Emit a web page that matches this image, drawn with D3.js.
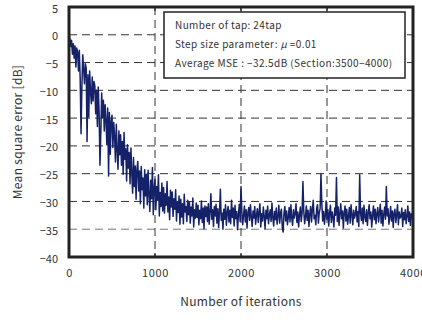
<!DOCTYPE html>
<html><head><meta charset="utf-8">
<script src="https://cdn.jsdelivr.net/npm/d3@7"></script>
<style>
body{margin:0;background:#fff;}
svg{display:block;}
text{font-family:"Noto Sans CJK JP","Noto Sans",sans-serif;fill:#333;}
</style></head>
<body>
<svg id="c" width="422" height="320"></svg>
<script>
// MSE values in dB, sampled every 10 iterations (0..4000)
const step = 10;
const mse = [
0,-0.8,-2.1,-1.0,-3.5,-1.6,-4.2,-2.0,-5.8,-2.4,
-3.1,-6.5,-2.8,-7.9,-17.8,-9.2,-3.6,-6.1,-8.8,-5.2,
-6.0,-19.2,-7.2,-14.8,-6.5,-10.2,-12.4,-7.6,-11.9,-8.4,
-9.1,-14.2,-10.0,-16.5,-9.4,-13.8,-23.5,-17.6,-10.5,-14.9,
-11.8,-17.3,-12.6,-15.4,-19.8,-13.2,-25.4,-14.0,-21.5,-15.6,
-14.5,-20.3,-15.8,-18.2,-22.9,-16.1,-20.8,-24.2,-17.3,-21.6,
-18.0,-23.5,-19.2,-25.1,-17.6,-22.4,-20.5,-26.3,-19.8,-24.0,
-21.2,-26.8,-20.4,-24.9,-28.5,-22.1,-27.3,-23.6,-29.6,-24.2,
-22.8,-28.1,-24.5,-30.4,-23.7,-27.9,-25.8,-31.2,-24.3,-29.0,
-25.1,-30.6,-24.4,-28.7,-31.8,-26.2,-29.5,-23.9,-32.4,-27.6,
-26.0,-31.5,-27.3,-29.8,-25.2,-32.6,-28.4,-30.9,-26.7,-31.7,
-27.5,-32.1,-28.6,-30.7,-26.4,-31.9,-29.2,-33.3,-28.0,-31.0,
-28.3,-32.7,-29.5,-31.4,-27.9,-33.5,-30.2,-32.0,-29.0,-34.1,
-29.6,-32.8,-30.4,-34.0,-28.7,-31.9,-30.9,-33.6,-29.8,-32.4,
-30.1,-33.9,-31.0,-32.6,-29.4,-34.6,-31.5,-33.0,-30.3,-32.9,
-30.7,-34.2,-31.6,-33.1,-29.9,-33.8,-31.2,-34.9,-30.8,-32.7,
-31.0,-33.6,-30.4,-34.1,-31.8,-28.6,-33.2,-31.5,-34.5,-30.9,
-32.6,-30.5,-33.9,-31.3,-34.7,-31.9,-27.8,-33.4,-32.1,-35.0,
-31.4,-33.2,-30.6,-34.3,-32.0,-30.9,-33.7,-31.6,-34.0,-29.8,
-32.9,-31.2,-34.4,-30.7,-33.1,-31.8,-35.1,-32.3,-30.5,-33.6,
-27.3,-31.9,-34.2,-32.4,-30.8,-33.7,-31.5,-34.8,-32.0,-31.1,
-33.4,-30.6,-32.8,-34.5,-31.7,-33.0,-30.9,-34.1,-32.5,-31.3,
-33.8,-31.9,-30.4,-34.6,-32.2,-33.5,-31.0,-32.7,-34.9,-31.6,
-33.1,-30.8,-34.0,-32.4,-31.5,-33.6,-30.3,-32.9,-34.4,-31.8,
-33.3,-31.2,-34.1,-32.6,-30.7,-33.9,-32.0,-31.4,-34.7,-35.5,
-32.1,-30.9,-33.5,-31.7,-34.2,-32.8,-31.1,-33.7,-30.6,-32.9,
-34.3,-31.5,-33.0,-32.2,-30.4,-33.8,-31.9,-34.6,-32.4,-31.0,
-33.6,-32.1,-26.4,-31.8,-34.0,-32.7,-30.8,-33.4,-31.6,-34.5,
-32.3,-30.9,-33.7,-31.4,-29.8,-33.1,-32.5,-34.2,-31.2,-30.6,
-33.9,-32.0,-31.3,-25.0,-30.5,-33.5,-31.8,-34.1,-32.6,-29.9,
-33.2,-31.5,-34.4,-32.1,-30.7,-33.8,-31.9,-32.8,-34.6,-31.2,
-32.5,-25.7,-33.6,-31.0,-34.3,-32.2,-30.4,-33.1,-31.7,-34.8,
-32.0,-30.8,-33.5,-31.4,-34.1,-32.7,-31.1,-33.9,-30.6,-32.4,
-34.2,-31.6,-33.0,-32.3,-30.9,-33.7,-31.8,-34.5,-25.2,-32.1,
-33.4,-31.2,-34.0,-30.7,-32.8,-33.6,-31.5,-34.3,-32.0,-30.6,
-33.1,-31.9,-34.6,-32.5,-30.8,-33.3,-31.4,-34.0,-32.2,-31.1,
-33.7,-32.0,-30.5,-33.9,-31.6,-34.4,-32.3,-31.0,-33.2,-27.3,
-32.6,-31.3,-34.1,-32.8,-30.9,-33.5,-31.7,-34.7,-32.1,-31.4,
-33.8,-32.4,-30.6,-34.2,-31.9,-33.0,-32.7,-31.2,-34.5,-32.0,
-33.3,-31.5,-34.0,-32.6,-30.8,-33.6,-31.9,-34.3,-32.2,-33.0,
-32.5
];
const xTicks = [0,1000,2000,3000,4000];
const yTicks = [5,0,-5,-10,-15,-20,-25,-30,-35,-40];
const legendLines = ["Number of tap: 24tap","Step size parameter: ","Average MSE :  \u221232.5dB (Section:3500\u22124000)"];

const svg = d3.select("#c");
const L=69, R=413, T=7, B=257;
const x = d3.scaleLinear().domain([0,4000]).range([L,R]);
const y = d3.scaleLinear().domain([-40,5]).range([B,T]);

// gridlines
const g = svg.append("g");
g.selectAll("line.h").data(yTicks.filter(d=>d<5&&d>-40)).enter().append("line")
 .attr("x1",L).attr("x2",R).attr("y1",d=>y(d)).attr("y2",d=>y(d))
 .attr("stroke",d=>d===-35?"#777":"#333").attr("stroke-width",1).attr("stroke-dasharray","8,5");
g.selectAll("line.v").data(xTicks.filter(d=>d>0&&d<4000)).enter().append("line")
 .attr("x1",d=>x(d)).attr("x2",d=>x(d)).attr("y1",T).attr("y2",B)
 .attr("stroke","#333").attr("stroke-width",1).attr("stroke-dasharray","8,5");

// data line
const line = d3.line().x((d,i)=>x(i*step)).y(d=>y(d));
svg.append("path").datum(mse).attr("d",line).attr("fill","none")
 .attr("stroke","#15226a").attr("stroke-width",1.5).attr("stroke-linejoin","round");

// inner ticks
xTicks.filter(d=>d>0&&d<4000).forEach(d=>{
  svg.append("line").attr("x1",x(d)).attr("x2",x(d)).attr("y1",B).attr("y2",B-4).attr("stroke","#222").attr("stroke-width",1.2);
  svg.append("line").attr("x1",x(d)).attr("x2",x(d)).attr("y1",T).attr("y2",T+4).attr("stroke","#222").attr("stroke-width",1.2);
});

// frame
svg.append("rect").attr("x",L).attr("y",T).attr("width",R-L).attr("height",B-T)
 .attr("fill","none").attr("stroke","#222").attr("stroke-width",3);

// axes labels
const xa = d3.axisBottom(x).tickValues(xTicks).tickSize(0).tickPadding(0).tickFormat(d3.format("d"));
const gx = svg.append("g").attr("transform",`translate(0,${B})`).call(xa);
gx.select(".domain").remove();
gx.selectAll("text").attr("y",20).attr("dy",0).style("font-size","11px").style("letter-spacing","0.6px").style("fill","#333").style("font-family","'Noto Sans CJK JP',sans-serif");
const ya = d3.axisLeft(y).tickValues(yTicks).tickSize(0).tickPadding(0).tickFormat(d=>d<0?"\u2212"+(-d):d);
const gy = svg.append("g").attr("transform",`translate(${L-11},1.5)`).call(ya);
gy.select(".domain").remove();
gy.selectAll("text").attr("x",0).style("font-size","11px").style("fill","#333").style("font-family","'Noto Sans CJK JP',sans-serif");

svg.append("text").attr("x",(L+R)/2).attr("y",306).attr("text-anchor","middle")
 .style("font-size","12px").style("letter-spacing","0.3px").text("Number of iterations");
svg.append("text").attr("transform",`translate(22,${(T+B)/2}) rotate(-90)`).attr("text-anchor","middle")
 .style("font-size","12px").style("letter-spacing","0.3px").text("Mean square error [dB]");

// legend
svg.append("rect").attr("x",164).attr("y",12).attr("width",241).attr("height",66)
 .attr("fill","#fff").attr("stroke","#222").attr("stroke-width",1.5);
const lt = svg.append("g").style("font-size","10px").style("letter-spacing","0.4px");
lt.append("text").attr("x",175).attr("y",29).text(legendLines[0]);
const t2 = lt.append("text").attr("x",175).attr("y",48).text(legendLines[1]);
t2.append("tspan").style("font-style","italic").text("\u03bc");
t2.append("tspan").text(" =0.01");
lt.append("text").attr("x",175).attr("y",67).text(legendLines[2]);
</script>
</body></html>
